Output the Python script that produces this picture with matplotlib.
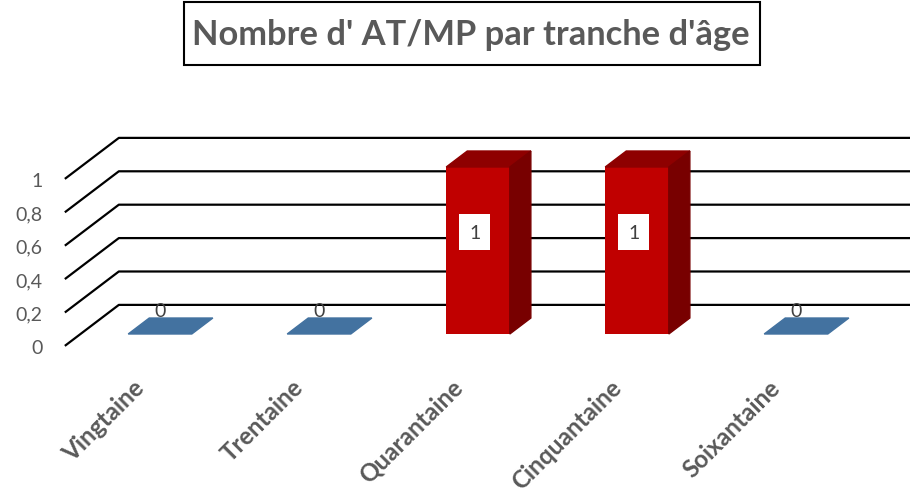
import matplotlib
matplotlib.use("Agg")
import matplotlib.pyplot as plt
from matplotlib.patches import Polygon, Rectangle

plt.rcParams['font.family'] = ['Lato', 'DejaVu Sans']

categories = ['Vingtaine', 'Trentaine', 'Quarantaine', 'Cinquantaine', 'Soixantaine']
values = [0, 0, 1, 1, 0]
yticks = [0, 0.2, 0.4, 0.6, 0.8, 1]
ytick_labels = ['0', '0,2', '0,4', '0,6', '0,8', '1']
title = "Nombre d' AT/MP par tranche d'âge"

grey = '#595959'
red_front, red_top, red_side = '#C00000', '#8E0000', '#780000'
blue = '#4372A0'

# fake 3D: depth vector in data units
DX, DY = 54 / 159, 41 / 167
BD = 0.39        # bar depth
FLOOR = (-0.29, 0.71)
W = 0.4


def P(u, v, d):
    return (u + d * DX, v + d * DY)


fig = plt.figure(figsize=(9.1, 5.02), dpi=100)
ax = fig.add_axes([0, 0, 1, 1])
ax.set_xlim(-160 / 159, 750 / 159)
ax.set_ylim((335 - 502) / 167, 335 / 167)
ax.axis('off')

# gridlines (floor + walls)
n = len(categories)
for k, lab in zip(yticks, ytick_labels):
    pts = [P(-0.5, k, FLOOR[0]), P(-0.5, k, FLOOR[1]), P(n + 0.2, k, FLOOR[1])]
    ax.plot([p[0] for p in pts], [p[1] for p in pts], color='black', lw=1.6,
            solid_capstyle='butt', zorder=1)
    x0, y0 = P(-0.5, k, FLOOR[0])
    ax.text(x0 - 0.14, y0 - 0.01, lab, ha='right', va='center', fontsize=14, color=grey)

# bars
for i, v in enumerate(values):
    if v > 0:
        ax.bar(i, v, width=W, color=red_front, zorder=3)
        top = [P(i - W / 2, v, 0), P(i + W / 2, v, 0), P(i + W / 2, v, BD), P(i - W / 2, v, BD)]
        side = [P(i + W / 2, 0, 0), P(i + W / 2, v, 0), P(i + W / 2, v, BD), P(i + W / 2, 0, BD)]
        ax.add_patch(Polygon(top, closed=True, color=red_top, zorder=3))
        ax.add_patch(Polygon(side, closed=True, color=red_side, zorder=3))
        ax.text(i - 0.02, v * 0.61, str(v), ha='center', va='center', fontsize=14,
                color='#404040', zorder=5,
                bbox=dict(boxstyle='square,pad=0.5', fc='white', ec='none'))
    else:
        flat = [P(i - W / 2, 0, 0), P(i + W / 2, 0, 0), P(i + W / 2, 0, BD), P(i - W / 2, 0, BD)]
        ax.add_patch(Polygon(flat, closed=True, color=blue, zorder=3))
        ax.text(i, v + 0.14, str(v), ha='center', va='center', fontsize=14,
                color='#404040', zorder=5)

# category labels
for i, c in enumerate(categories):
    ax.text(i - 0.07, -0.245, c, rotation=45, ha='right', va='top', fontsize=17.5,
            fontweight='bold', color=grey)

# title in a box
fig.patches.append(Rectangle((184 / 910, 1 - 66 / 502), (760 - 184) / 910, 63 / 502,
                             transform=fig.transFigure, fill=False, ec='black', lw=1.5))
fig.text(471 / 910, 1 - 35 / 502, title, ha='center', va='center', fontsize=24.8,
         fontweight='bold', color=grey)

fig.savefig('out.png', dpi=100)
